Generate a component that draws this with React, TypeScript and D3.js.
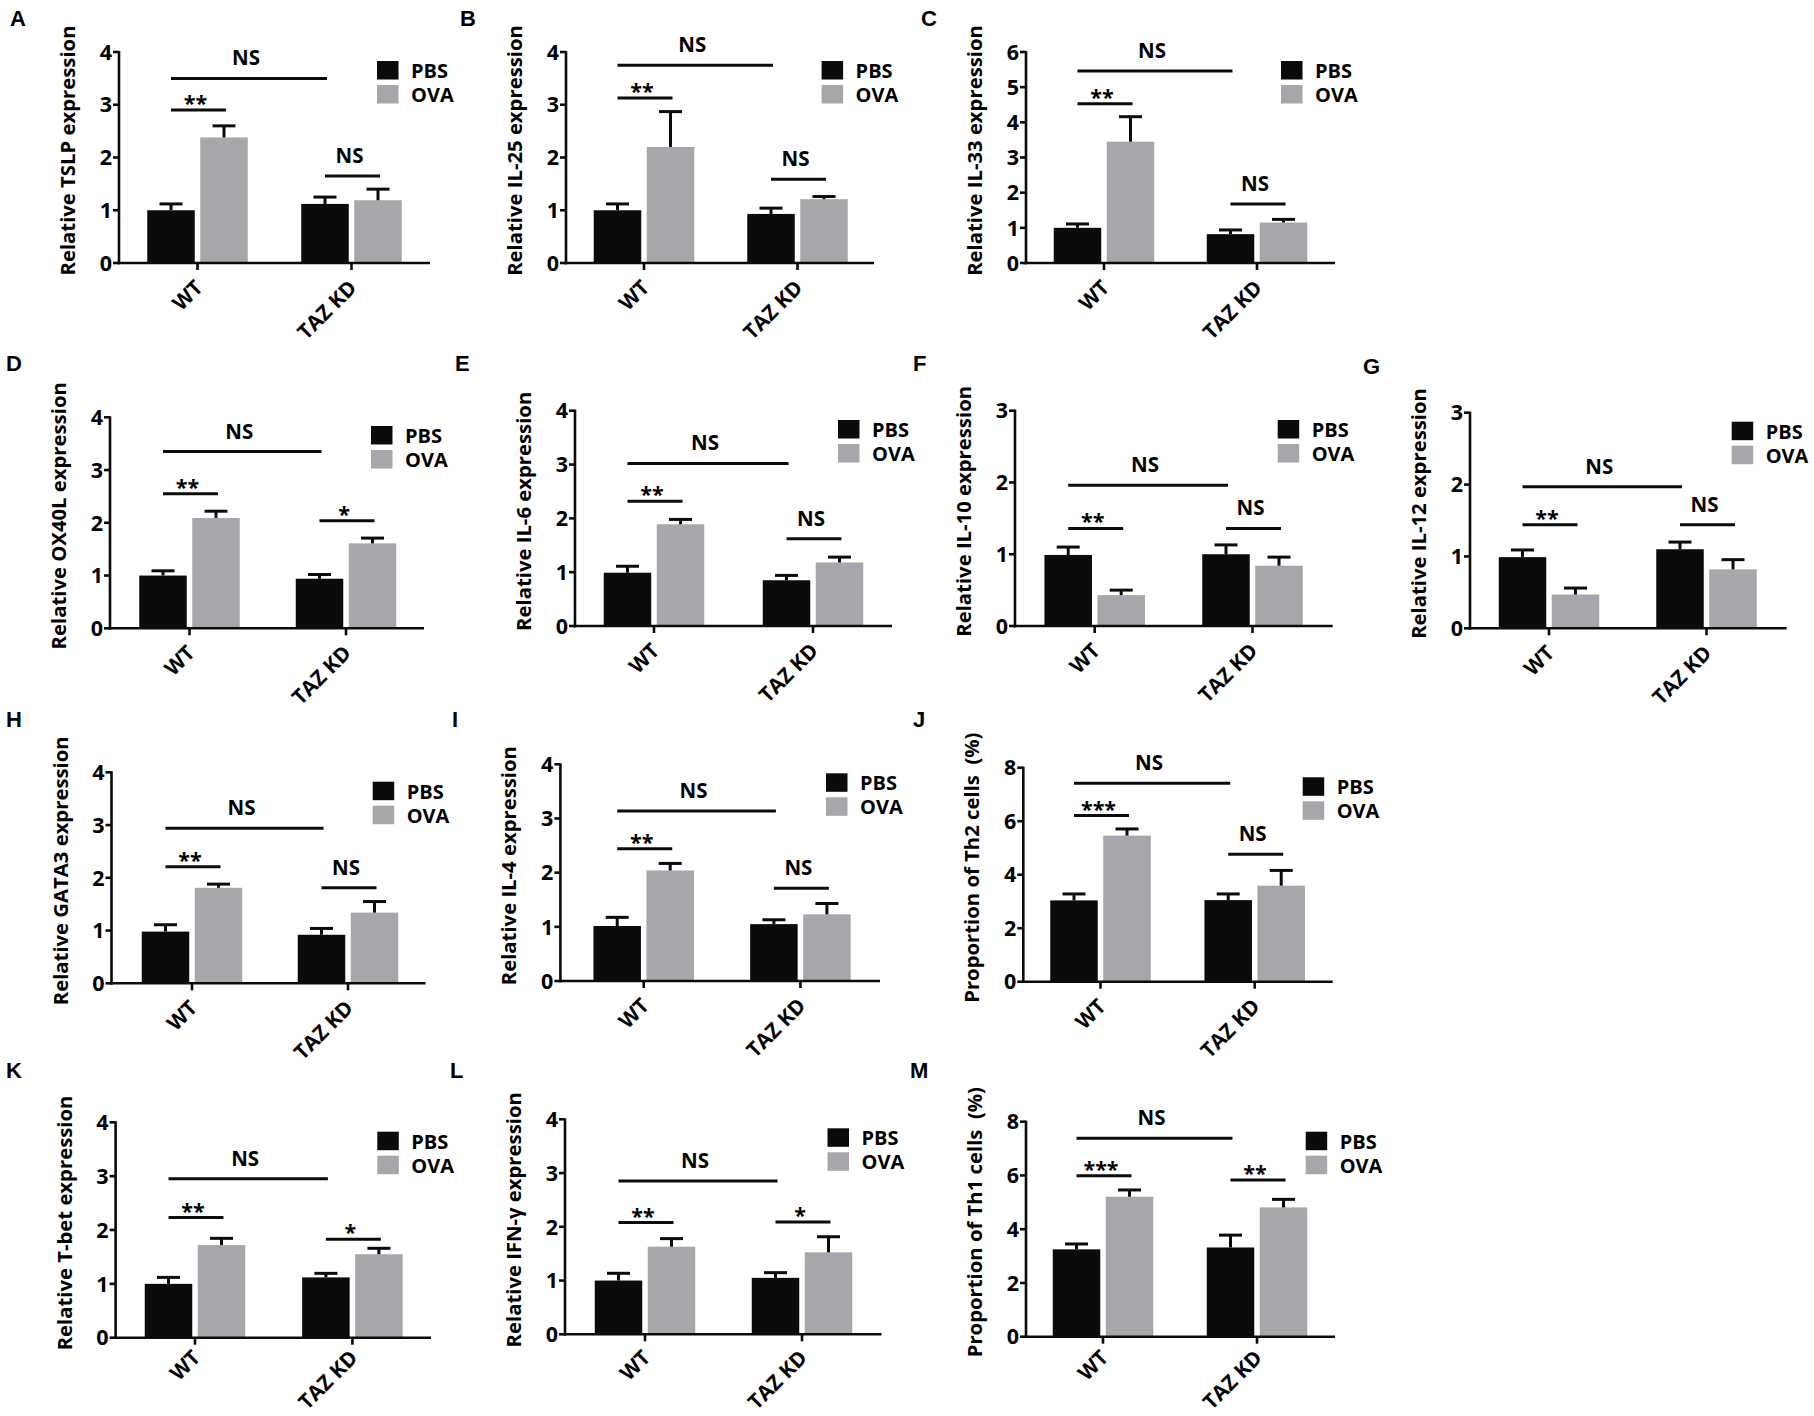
import React from 'react';
import * as d3 from 'd3';

// ---------------- data ----------------
const panelLetters = ['A', 'B', 'C', 'D', 'E', 'F', 'G', 'H', 'I', 'J', 'K', 'L', 'M'];
const yTitles = [
  'Relative TSLP expression',
  'Relative IL-25 expression',
  'Relative IL-33 expression',
  'Relative OX40L expression',
  'Relative IL-6 expression',
  'Relative IL-10 expression',
  'Relative IL-12 expression',
  'Relative GATA3 expression',
  'Relative IL-4 expression',
  'Proportion of Th2 cells  (%)',
  'Relative T-bet expression',
  'Relative IFN-γ expression',
  'Proportion of Th1 cells  (%)',
];
const yMax = [4, 4, 6, 4, 4, 3, 3, 4, 4, 8, 4, 4, 8];
const yStep = [1, 1, 1, 1, 1, 1, 1, 1, 1, 2, 1, 1, 2];
const groups = ['WT', 'TAZ KD'];
const series = ['PBS', 'OVA'];
// values per panel: [WT, TAZ KD]
const pbsMean = [[1.0, 1.12], [1.0, 0.93], [1.0, 0.82], [1.0, 0.94], [0.99, 0.85], [0.99, 1.0], [0.99, 1.1], [0.98, 0.92], [1.015, 1.05], [3.04, 3.05], [1.0, 1.12], [1.0, 1.05], [3.25, 3.32]];
const pbsErr = [[0.12, 0.13], [0.12, 0.11], [0.11, 0.12], [0.09, 0.08], [0.12, 0.09], [0.11, 0.13], [0.1, 0.1], [0.13, 0.12], [0.16, 0.08], [0.24, 0.23], [0.12, 0.075], [0.135, 0.097], [0.2, 0.46]];
const ovaMean = [[2.38, 1.19], [2.2, 1.21], [3.45, 1.15], [2.09, 1.61], [1.89, 1.18], [0.43, 0.84], [0.47, 0.82], [1.81, 1.34], [2.04, 1.23], [5.46, 3.59], [1.72, 1.55], [1.63, 1.525], [5.21, 4.81]];
const ovaErr = [[0.22, 0.21], [0.67, 0.05], [0.71, 0.09], [0.13, 0.1], [0.09, 0.1], [0.07, 0.12], [0.09, 0.135], [0.07, 0.21], [0.13, 0.2], [0.25, 0.57], [0.125, 0.11], [0.15, 0.29], [0.25, 0.3]];
const sigTop = ['NS', 'NS', 'NS', 'NS', 'NS', 'NS', 'NS', 'NS', 'NS', 'NS', 'NS', 'NS', 'NS'];
const sigWT = ['**', '**', '**', '**', '**', '**', '**', '**', '**', '***', '**', '**', '***'];
const sigTAZ = ['NS', 'NS', 'NS', '*', 'NS', 'NS', 'NS', 'NS', 'NS', 'NS', '*', '*', '**'];
const sigTopY = [3.5, 3.75, 5.46, 3.35, 3.02, 1.96, 1.97, 2.94, 3.14, 7.42, 2.95, 2.85, 7.38];
const sigWTY = [2.9, 3.13, 4.53, 2.55, 2.32, 1.36, 1.44, 2.21, 2.44, 6.21, 2.23, 2.08, 5.99];
const sigTAZY = [1.65, 1.59, 1.68, 2.04, 1.62, 1.36, 1.44, 1.81, 1.71, 4.76, 1.83, 2.09, 5.83];

// ---------------- layout ----------------
const axisX = [119, 566, 1026, 110, 575, 1015, 1470, 111.5, 560.4, 1023.3, 115.6, 565, 1026];
const axisEnd = [430, 874, 1335, 424, 892, 1332.7, 1786.7, 425.5, 880, 1332.7, 431, 881.5, 1335];
const groupX = [[197.5, 351.5], [644, 797.5], [1104, 1257], [189.5, 346], [654, 813], [1094.7, 1252.5], [1549, 1706.5], [192, 348], [643.7, 800.4], [1100.5, 1254.7], [195, 352.4], [645, 802], [1103, 1257]];
const zeroY = [263, 263, 263, 628.3, 626, 626, 628.3, 983.3, 981, 981.7, 1337.7, 1334.3, 1336.7];
const topY = [52, 52, 52, 417.3, 410.7, 410.7, 412.7, 772.3, 764.3, 767.7, 1122.3, 1119.3, 1121.7];
const legendXY = [[377, 61], [821.6, 61], [1281, 61], [371, 426], [838, 420], [1277.7, 420], [1731.7, 421.7], [372.7, 781.7], [826, 773.3], [1302.7, 777.3], [377.3, 1131.7], [827.5, 1128.3], [1305.7, 1131.7]];
const letterXY = [[10, 10], [460, 10], [921, 10], [6, 355], [455, 355], [913, 355], [1363, 358], [6, 711], [452, 711], [913, 711], [6, 1062], [450, 1062], [910, 1062]];

const W = 1814;
const H = 1416;
const FONT = "'Open Sans', 'DejaVu Sans', sans-serif";
const BLACK = '#0b0b0b';
const GRAY = '#a6a6ab';
const LW = 2.6;

function Panel({ i }: { i: number }) {
  const x0 = axisX[i];
  const y = d3.scaleLinear().domain([0, yMax[i]]).range([zeroY[i], topY[i]]);
  const gx = d3.scalePoint<string>().domain(groups).range(groupX[i]).padding(0);
  const sx = d3.scaleBand<string>().domain(series).range([-50.25, 50.25]).paddingInner(5.5 / 53);
  const colors = d3.scaleOrdinal<string, string>().domain(series).range([BLACK, GRAY]);
  const ticks = d3.range(0, yMax[i] + yStep[i] / 2, yStep[i]);
  const bw = sx.bandwidth();

  const bars: { g: string; s: string; v: number; e: number }[] = [];
  groups.forEach((g, gi) => {
    bars.push({ g, s: 'PBS', v: pbsMean[i][gi], e: pbsErr[i][gi] });
    bars.push({ g, s: 'OVA', v: ovaMean[i][gi], e: ovaErr[i][gi] });
  });
  const cx = (g: string, s: string) => (gx(g) as number) + (sx(s) as number) + bw / 2;

  const sigs = [
    { x1: cx('WT', 'PBS'), x2: cx('TAZ KD', 'PBS'), yv: sigTopY[i], t: sigTop[i] },
    { x1: cx('WT', 'PBS'), x2: cx('WT', 'OVA'), yv: sigWTY[i], t: sigWT[i] },
    { x1: cx('TAZ KD', 'PBS'), x2: cx('TAZ KD', 'OVA'), yv: sigTAZY[i], t: sigTAZ[i] },
  ];
  const midY = (zeroY[i] + topY[i]) / 2 - 7;
  const [lx, ly] = legendXY[i];
  const [px, py] = letterXY[i];
  const labelY = Math.min(zeroY[i] + 26, H - 57);

  return (
    <g>
      <text x={px} y={py + 15.5} fontFamily="'Liberation Sans', Arial, sans-serif" fontWeight="bold" fontSize={22} fill="#000">
        {panelLetters[i]}
      </text>
      {/* y title */}
      <text
        transform={`translate(${x0 - 44},${midY}) rotate(-90)`}
        textAnchor="middle"
        fontFamily={FONT}
        fontWeight={700}
        fontSize={20.3}
        fill="#000"
        style={{ whiteSpace: 'pre' }}
        xmlSpace="preserve"
      >
        {yTitles[i]}
      </text>
      {/* bars */}
      {bars.map((b, k) => {
        const x = (gx(b.g) as number) + (sx(b.s) as number);
        return (
          <rect key={'b' + k} x={x} y={y(b.v)} width={bw} height={y(0) - y(b.v)} fill={colors(b.s)} />
        );
      })}
      {/* error bars */}
      {bars.map((b, k) => {
        const c = cx(b.g, b.s);
        return (
          <g key={'e' + k} stroke={BLACK} strokeWidth={3}>
            <line x1={c} x2={c} y1={y(b.v)} y2={y(b.v + b.e)} />
            <line x1={c - 11.5} x2={c + 11.5} y1={y(b.v + b.e)} y2={y(b.v + b.e)} />
          </g>
        );
      })}
      {/* y axis */}
      <line x1={x0} x2={x0} y1={zeroY[i] + LW / 2} y2={topY[i] - 1} stroke={BLACK} strokeWidth={LW} />
      {ticks.map((t) => (
        <g key={'t' + t}>
          <line x1={x0 - 6} x2={x0} y1={y(t)} y2={y(t)} stroke={BLACK} strokeWidth={LW} />
          <text x={x0 - 7} y={y(t)} dy="0.36em" textAnchor="end" fontFamily={FONT} fontWeight={700} fontSize={21.5} fill="#000">
            {d3.format('d')(t)}
          </text>
        </g>
      ))}
      {/* x axis */}
      <line x1={x0 - LW / 2} x2={axisEnd[i]} y1={zeroY[i]} y2={zeroY[i]} stroke={BLACK} strokeWidth={LW} />
      {groups.map((g) => (
        <g key={'x' + g}>
          <line x1={gx(g)} x2={gx(g)} y1={zeroY[i]} y2={zeroY[i] + 7} stroke={BLACK} strokeWidth={LW} />
          <text
            transform={`translate(${(gx(g) as number) + 6.5},${labelY}) rotate(-45)`}
            textAnchor="end"
            fontFamily={FONT}
            fontWeight={700}
            fontSize={20.8}
            fill="#000"
          >
            {g}
          </text>
        </g>
      ))}
      {/* significance */}
      {sigs.map((s, k) => (
        <g key={'s' + k}>
          <line x1={s.x1} x2={s.x2 + 2} y1={y(s.yv)} y2={y(s.yv)} stroke={BLACK} strokeWidth={3} />
          <text
            x={(s.x1 + s.x2) / 2 - 2}
            y={s.t.startsWith('*') ? y(s.yv) + 1 : y(s.yv) - 13}
            textAnchor="middle"
            fontFamily={FONT}
            fontWeight={700}
            fontSize={s.t.startsWith('*') ? 21.5 : 20.5}
            fill="#000"
          >
            {s.t}
          </text>
        </g>
      ))}
      {/* legend */}
      {series.map((s, k) => (
        <g key={'l' + s}>
          <rect x={lx} y={ly + k * 24} width={21.5} height={18.5} fill={colors(s)} />
          <text x={lx + 34} y={ly + k * 24 + 16.8} fontFamily={FONT} fontWeight={700} fontSize={20} fill="#000">
            {s}
          </text>
        </g>
      ))}
    </g>
  );
}

export default function App() {
  return (
    <svg
      width={W}
      height={H}
      viewBox={`0 0 ${W} ${H}`}
      style={{ position: 'absolute', left: 0, top: 0, background: '#fff' }}
    >
      <rect width={W} height={H} fill="#fff" />
      {panelLetters.map((_, i) => (
        <Panel key={i} i={i} />
      ))}
    </svg>
  );
}
